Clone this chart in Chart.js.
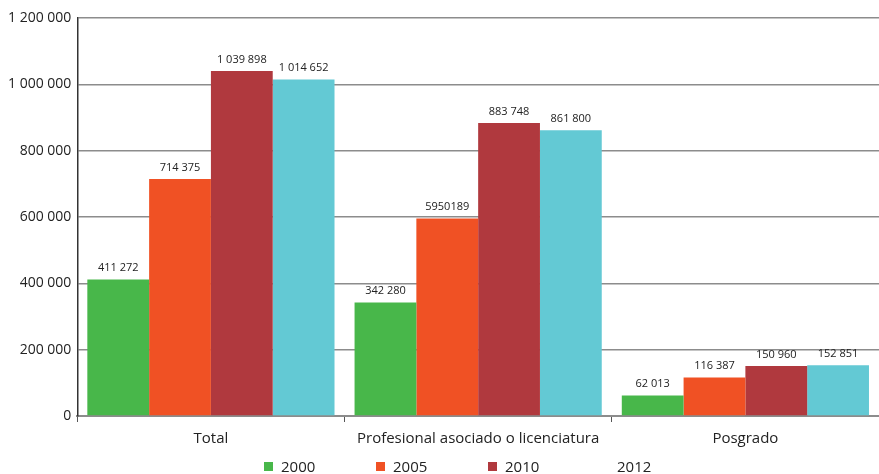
<!DOCTYPE html>
<html>
<head>
<meta charset="utf-8">
<script src="https://cdn.jsdelivr.net/npm/chart.js@4"></script>
<style>
  html, body { margin: 0; padding: 0; background: #fff; }
  #wrap { position: relative; width: 879px; height: 474px; }
  #leyenda { position: absolute; left: 264px; top: 456px; display: flex; font-family: "Open Sans", sans-serif; font-size: 15px; color: #222; }
  #leyenda .item { width: 112px; display: flex; align-items: center; }
  #leyenda .caja { width: 9px; height: 9px; margin-right: 8px; }
</style>
</head>
<body>
<div id="wrap">
  <canvas id="grafico" width="879" height="474"></canvas>
  <div id="leyenda"></div>
</div>
<script>
// Datos del gráfico
const categorias = ['Total', 'Profesional asociado o licenciatura', 'Posgrado'];
const anios = ['2000', '2005', '2010', '2012'];
const datos2000 = [411272, 342280, 62013];
const datos2005 = [714375, 595189, 116387];
const datos2010 = [1039898, 883748, 150960];
const datos2012 = [1014652, 861800, 152851];
// Etiquetas tal como aparecen en la imagen
const etiquetas2000 = ['411 272', '342 280', '62 013'];
const etiquetas2005 = ['714 375', '5950189', '116 387'];
const etiquetas2010 = ['1 039 898', '883 748', '150 960'];
const etiquetas2012 = ['1 014 652', '861 800', '152 851'];
const ticksY = [0, 200000, 400000, 600000, 800000, 1000000, 1200000];

const colores = ['#48b74a', '#f05124', '#b0393e', '#63c9d4'];
const coloresLeyenda = ['#48b74a', '#f05124', '#b0393e', 'transparent'];
const series = [datos2000, datos2005, datos2010, datos2012];
const etiquetas = [etiquetas2000, etiquetas2005, etiquetas2010, etiquetas2012];

const fuente = '"Open Sans", sans-serif';

function formatoMiles(v) {
    return String(v).replace(/\B(?=(\d{3})+(?!\d))/g, ' ');
}

// Plugin para escribir los valores encima de las barras
const valoresPlugin = {
    id: 'valores',
    afterDatasetsDraw(chart) {
        const ctx = chart.ctx;
        ctx.save();
        ctx.font = '11px ' + fuente;
        ctx.fillStyle = '#222';
        ctx.textAlign = 'center';
        ctx.textBaseline = 'bottom';
        chart.data.datasets.forEach((ds, i) => {
            chart.getDatasetMeta(i).data.forEach((bar, j) => {
                ctx.fillText(etiquetas[i][j], bar.x, bar.y - 6);
            });
        });
        ctx.restore();
    }
};

const ctx = document.getElementById('grafico').getContext('2d');
const grafico = new Chart(ctx, {
    type: 'bar',
    data: {
        labels: categorias,
        datasets: anios.map((a, i) => ({
            label: a,
            data: series[i],
            backgroundColor: colores[i],
            borderWidth: 0
        }))
    },
    options: {
        responsive: false,
        animation: false,
        layout: { padding: { left: 2, top: 18, right: 0, bottom: 18 } },
        datasets: { bar: { categoryPercentage: 0.925, barPercentage: 1.0 } },
        plugins: {
            legend: { display: false },
            tooltip: { enabled: false }
        },
        scales: {
            x: {
                grid: { display: true, drawOnChartArea: false, color: '#555', tickLength: 6, offset: true },
                border: { color: '#8c8c8c', width: 2 },
                ticks: { color: '#222', font: { family: fuente, size: 15 }, padding: 8 }
            },
            y: {
                min: 0,
                max: 1200000,
                afterBuildTicks(axis) { axis.ticks = ticksY.map(v => ({ value: v })); },
                grid: { color: '#8c8c8c', lineWidth: 1.5, drawTicks: false },
                border: { color: '#333', width: 1.5 },
                ticks: {
                    color: '#222',
                    font: { family: fuente, size: 14 },
                    padding: 6,
                    callback: v => formatoMiles(v)
                }
            }
        }
    },
    plugins: [valoresPlugin]
});

// Leyenda en HTML (el 2012 no tiene recuadro en el original)
const leyenda = document.getElementById('leyenda');
anios.forEach((a, i) => {
    const item = document.createElement('div');
    item.className = 'item';
    item.innerHTML = '<span class="caja" style="background:' + coloresLeyenda[i] + '"></span><span>' + a + '</span>';
    leyenda.appendChild(item);
});
</script>
</body>
</html>
